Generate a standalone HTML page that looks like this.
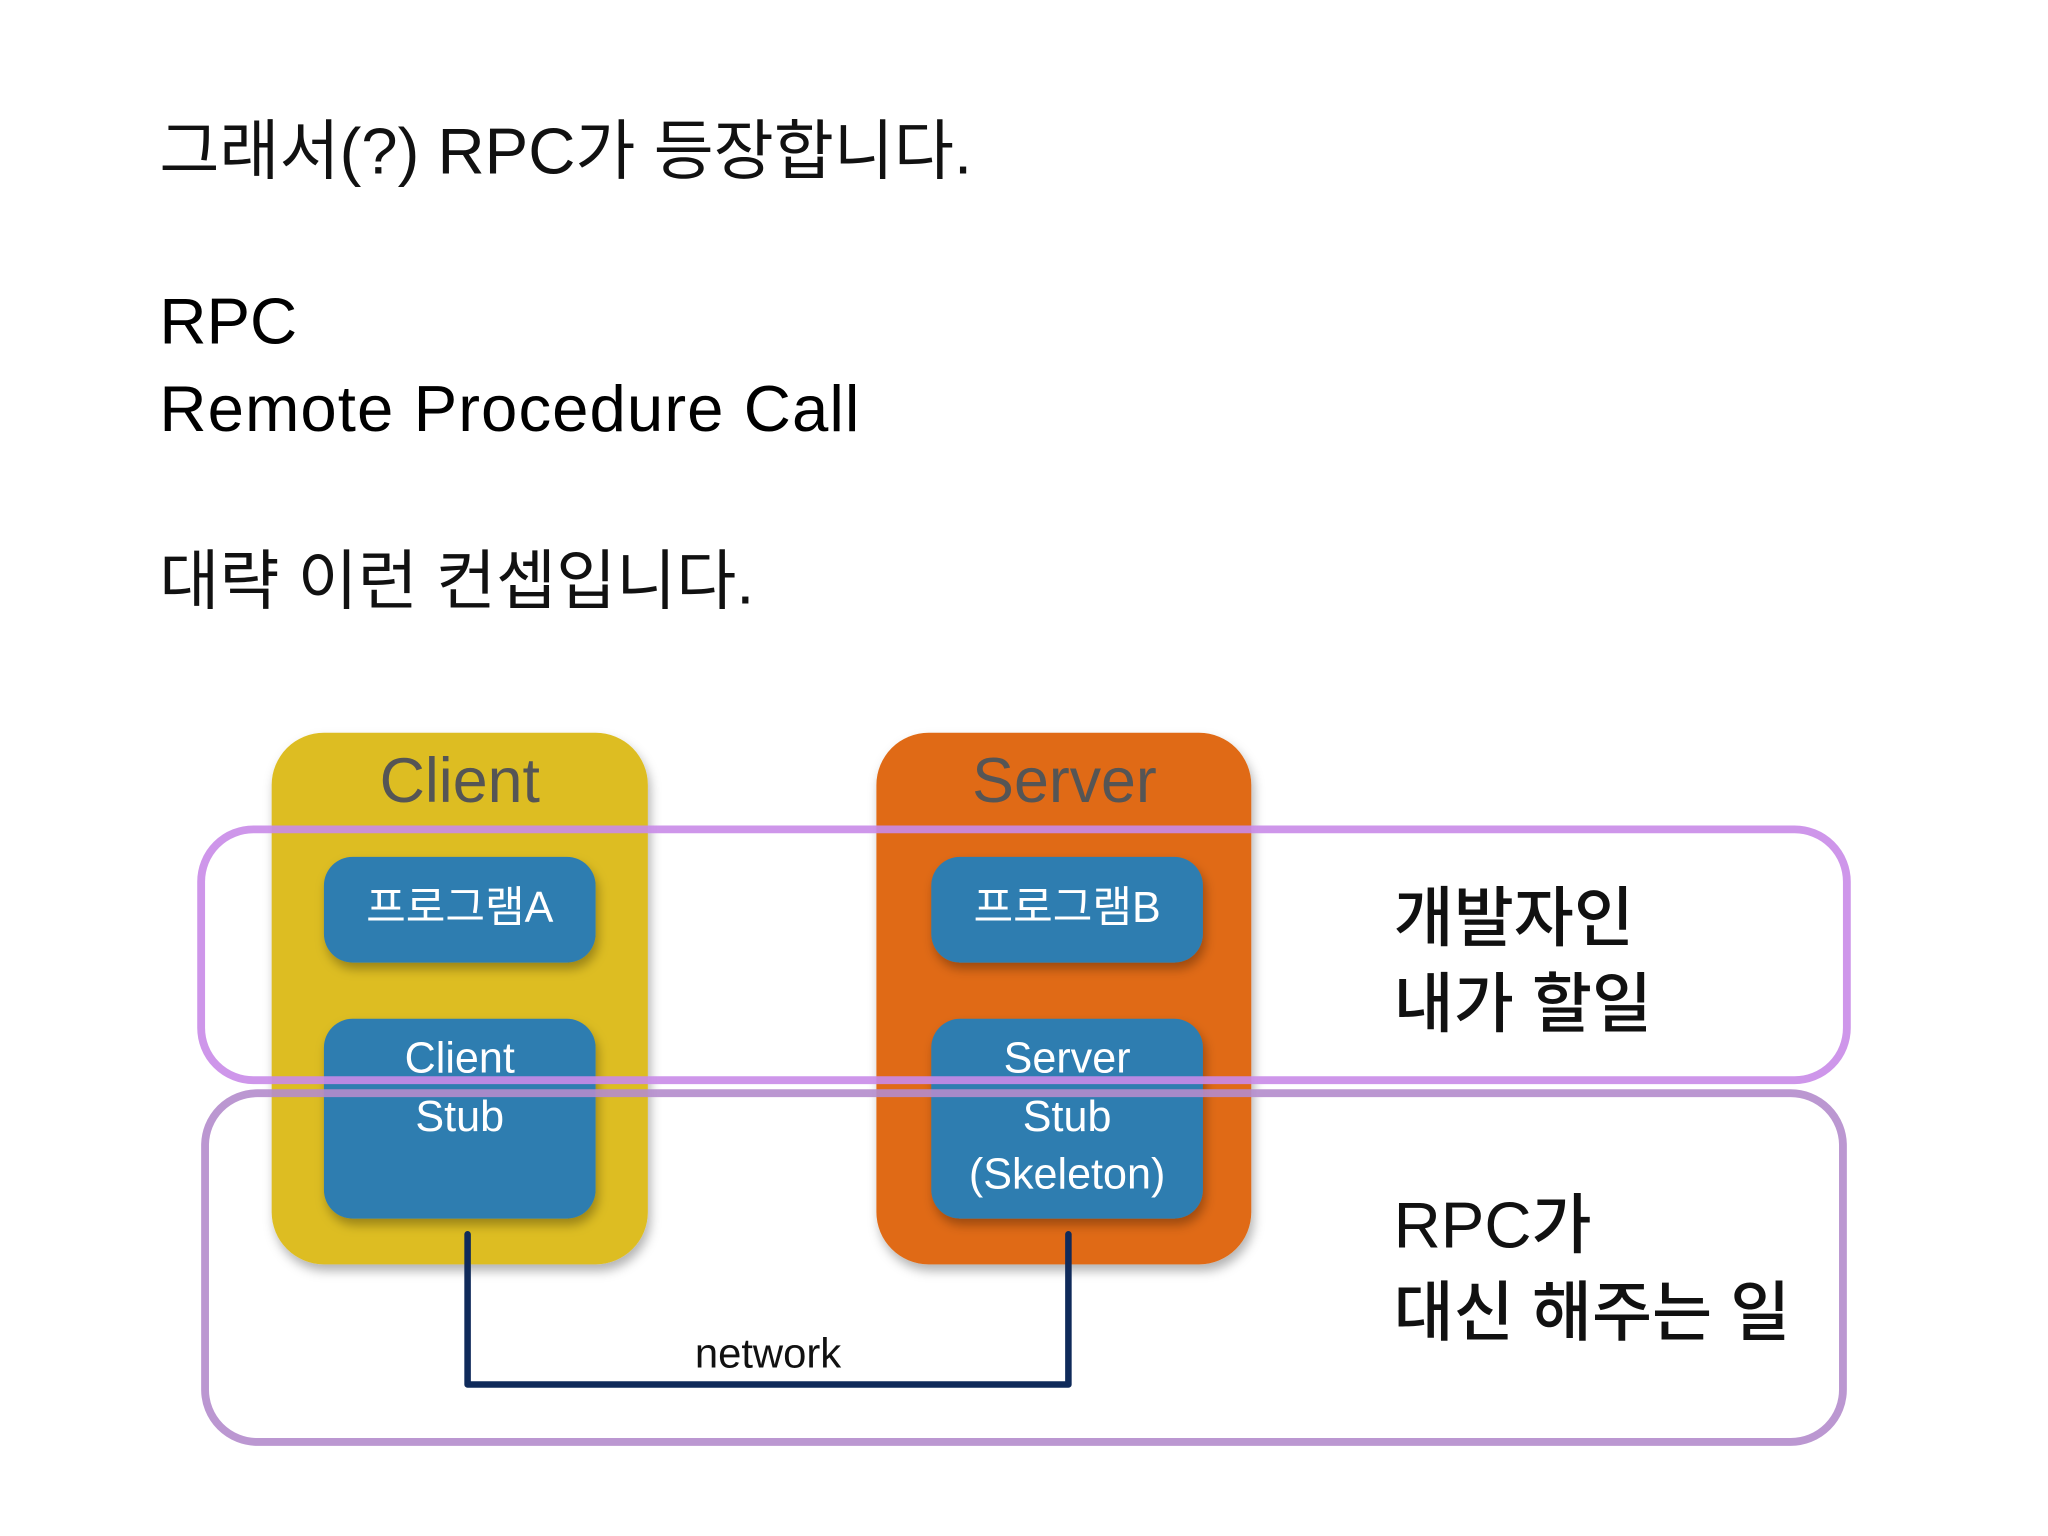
<!DOCTYPE html>
<html><head><meta charset="utf-8"><style>
html,body{margin:0;padding:0;background:#fff;width:2048px;height:1536px;overflow:hidden}
svg{display:block}
text{font-family:"Liberation Sans","Noto Sans CJK KR",sans-serif}
</style></head><body>
<svg width="2048" height="1536" viewBox="0 0 1568 1176" preserveAspectRatio="none" xmlns="http://www.w3.org/2000/svg">
<defs><filter id="sh" x="-10%" y="-10%" width="130%" height="130%"><feDropShadow dx="2" dy="5" stdDeviation="4" flood-color="#000" flood-opacity="0.3"/></filter></defs>
<text x="122" y="133" font-size="50" fill="#111">그래서(?) RPC가 등장합니다.</text>
<text x="122" y="263" font-size="50" fill="#000">RPC</text>
<text x="122" y="330" font-size="50" fill="#000" textLength="536">Remote Procedure Call</text>
<text x="122" y="462" font-size="50" fill="#111">대략 이런 컨셉입니다.</text>

<rect x="208" y="561" width="288" height="407" rx="40" fill="#DDBD22" filter="url(#sh)"/>
<rect x="671" y="561" width="287" height="407" rx="40" fill="#E06A12" filter="url(#sh)"/>
<text x="352" y="614" font-size="48" fill="#555" text-anchor="middle">Client</text>
<text x="815" y="614" font-size="48" fill="#555" text-anchor="middle">Server</text>

<g filter="url(#sh)" fill="#2E7DB0">
<rect x="248" y="656" width="208" height="81" rx="22"/>
<rect x="248" y="780" width="208" height="153" rx="22"/>
<rect x="713" y="656" width="208" height="81" rx="22"/>
<rect x="713" y="780" width="208" height="153" rx="22"/>
</g>
<g fill="#fff" font-size="33" text-anchor="middle">
<text x="352" y="706">프로그램A</text>
<text x="817" y="706">프로그램B</text>
<text x="352" y="821">Client</text>
<text x="352" y="866">Stub</text>
<text x="817" y="821">Server</text>
<text x="817" y="866">Stub</text>
<text x="817" y="910">(Skeleton)</text>
</g>

<rect x="154" y="635" width="1260" height="192" rx="40" fill="none" stroke="#C98BE8" stroke-width="6" opacity="0.9"/>
<rect x="157" y="837" width="1254" height="267" rx="40" fill="none" stroke="#B48CCC" stroke-width="6" opacity="0.9"/>

<path d="M358 945 L358 1060 L818 1060 L818 945" fill="none" stroke="#0F2A5A" stroke-width="5" stroke-linejoin="round" stroke-linecap="round"/>
<text x="588" y="1047" font-size="32" fill="#111" text-anchor="middle">network</text>

<g font-size="50" fill="#111" font-weight="500">
<text x="1067" y="720">개발자인</text>
<text x="1067" y="786">내가 할일</text>
<text x="1067" y="955">RPC가</text>
<text x="1067" y="1022">대신 해주는 일</text>
</g>
</svg>
</body></html>
